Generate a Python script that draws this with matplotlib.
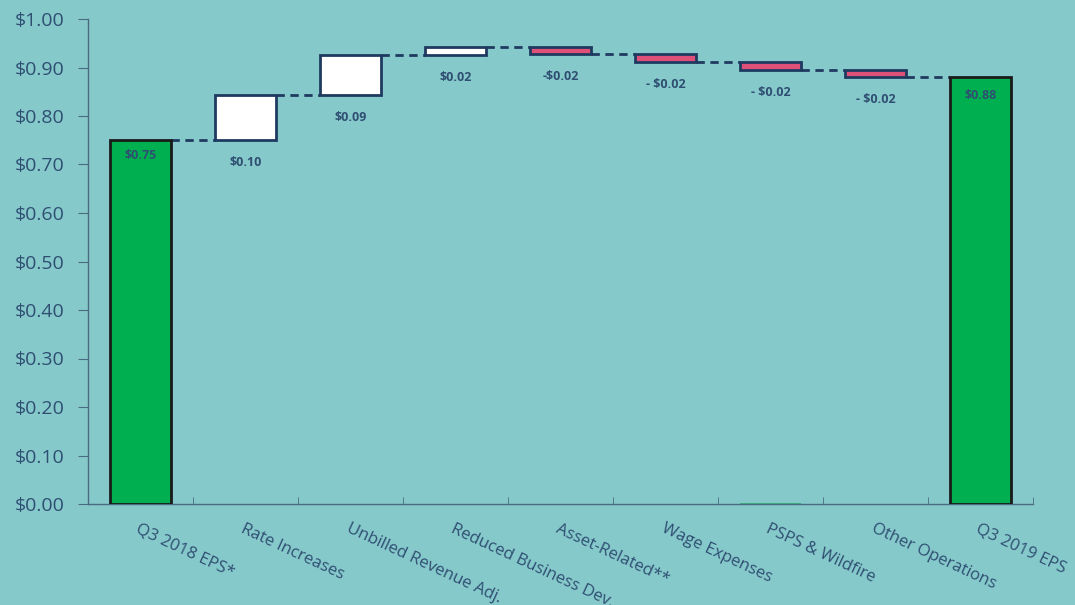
import matplotlib
matplotlib.use("Agg")
import matplotlib.pyplot as plt
import numpy as np

categories = ["Q3 2018 EPS*", "Rate Increases", "Unbilled Revenue Adj.", "Reduced Business Dev.",
              "Asset-Related**", "Wage Expenses", "PSPS & Wildfire", "Other Operations", "Q3 2019 EPS"]
start_eps = 0.75
deltas = [0.093, 0.083, 0.016, -0.015, -0.016, -0.016, -0.015]
end_eps = 0.88
value_labels = ["$0.75", "$0.10", "$0.09", "$0.02", "-$0.02", "- $0.02", "- $0.02", "- $0.02", "$0.88"]
psps_small = 0.003  # tiny green sliver near zero under PSPS & Wildfire

BG = "#86C9CB"
NAVY = "#1F3A60"
TXT = "#2F4F72"
GREEN = "#00B050"
PINK = "#DE5078"

plt.rcParams['font.family'] = ['Open Sans', 'DejaVu Sans']

fig = plt.figure(figsize=(10.75, 6.05), dpi=100, facecolor=BG)
ax = fig.add_axes([88/1075, 101/605, (1033-88)/1075, (504-19)/605])
ax.set_facecolor(BG)

x = np.arange(len(categories))
w = 0.58

levels = [start_eps]
for d in deltas:
    levels.append(levels[-1] + d)

ax.bar(x[0], start_eps, width=w, color=GREEN, edgecolor="#1A1A1A", linewidth=2, zorder=3)
for i, d in enumerate(deltas):
    base = levels[i] if d > 0 else levels[i + 1]
    color = "white" if d > 0 else PINK
    ax.bar(x[i + 1], abs(d), bottom=base, width=w, color=color, edgecolor=NAVY, linewidth=2, zorder=3)
ax.bar(x[-1], end_eps, width=w, color=GREEN, edgecolor="#1A1A1A", linewidth=2, zorder=3)
ax.bar(x[6], psps_small, width=w, color="#3DB87A", edgecolor="none", linewidth=0, zorder=2)

for i in range(len(categories) - 1):
    lvl = levels[i]
    ax.plot([x[i] + w/2, x[i + 1] - w/2], [lvl, lvl], color=NAVY, lw=2, ls=(0, (3, 2)), zorder=2)

ax.annotate(value_labels[0], (x[0], start_eps), xytext=(0, -11), textcoords="offset points",
            ha="center", va="center", fontsize=9, fontweight="bold", color=TXT, zorder=4)
ax.annotate(value_labels[-1], (x[-1], end_eps), xytext=(0, -13), textcoords="offset points",
            ha="center", va="center", fontsize=9, fontweight="bold", color=TXT, zorder=4)
for i, d in enumerate(deltas):
    bottom = min(levels[i], levels[i + 1])
    ax.annotate(value_labels[i + 1], (x[i + 1], bottom), xytext=(0, -16), textcoords="offset points",
                ha="center", va="center", fontsize=9, fontweight="bold", color=TXT, zorder=4)

ax.set_xlim(-0.5, len(categories) - 0.5)
ax.set_ylim(0, 1.0)
ax.set_yticks(np.arange(0, 1.01, 0.1))
ax.set_yticklabels([f"${v:.2f}" for v in np.arange(0, 1.01, 0.1)], fontsize=14, color=TXT)
ax.tick_params(axis="y", length=7, color="#4A6A80", pad=10)

ax.set_xticks(x)
ax.set_xticklabels([])
ax.set_xticks(np.arange(0.5, len(categories) - 0.5 + 0.01, 1.0), minor=True)
ax.tick_params(axis="x", which="major", length=0)
ax.tick_params(axis="x", which="minor", length=5, direction="in", color="#4A6A80")

for xi, lab in zip(x, categories):
    ax.text(xi, -0.035, lab, rotation=-25, rotation_mode="anchor", ha="left", va="top",
            fontsize=12, color=TXT, transform=ax.transData)

for s in ["top", "right"]:
    ax.spines[s].set_visible(False)
for s in ["left", "bottom"]:
    ax.spines[s].set_color("#4A6A80")
    ax.spines[s].set_linewidth(1)

fig.savefig("out.png", dpi=100, facecolor=BG)
